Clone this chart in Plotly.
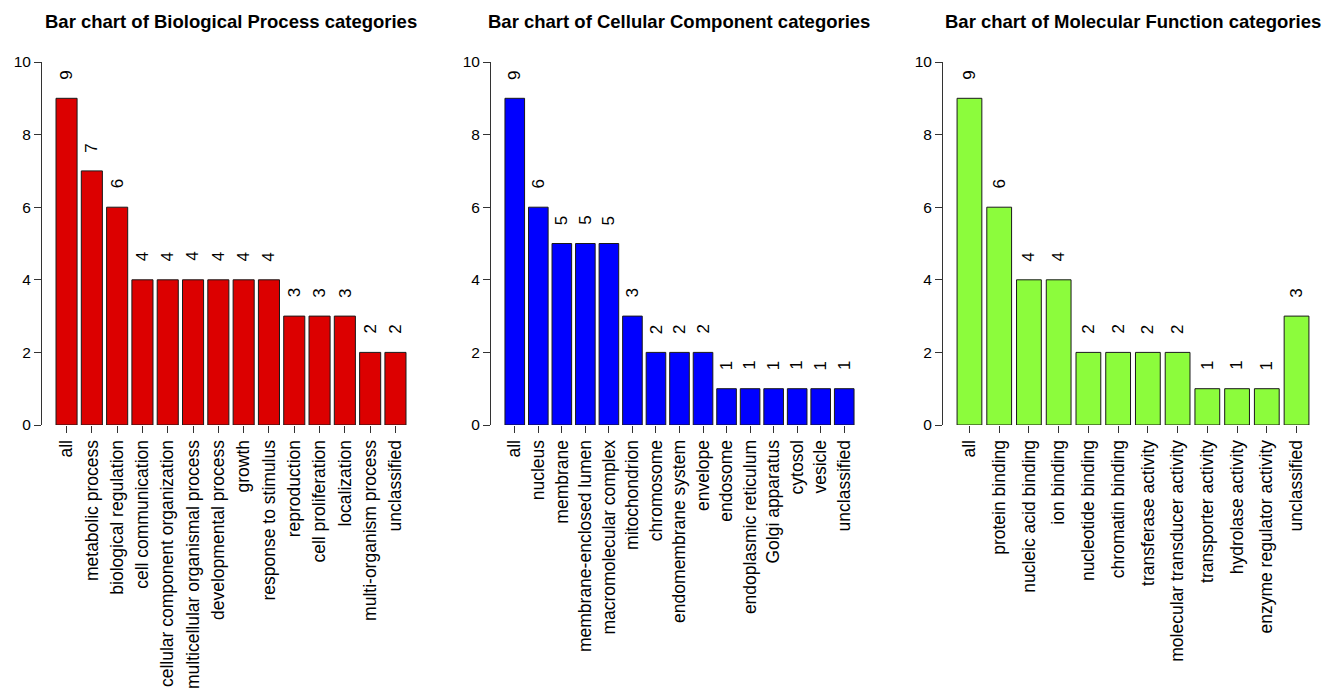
import plotly.graph_objects as go

# ---- data ----
bp_categories = ["all", "metabolic process", "biological regulation", "cell communication",
                 "cellular component organization", "multicellular organismal process",
                 "developmental process", "growth", "response to stimulus", "reproduction",
                 "cell proliferation", "localization", "multi-organism process", "unclassified"]
bp_counts = [9, 7, 6, 4, 4, 4, 4, 4, 4, 3, 3, 3, 2, 2]

cc_categories = ["all", "nucleus", "membrane", "membrane-enclosed lumen", "macromolecular complex",
                 "mitochondrion", "chromosome", "endomembrane system", "envelope", "endosome",
                 "endoplasmic reticulum", "Golgi apparatus", "cytosol", "vesicle", "unclassified"]
cc_counts = [9, 6, 5, 5, 5, 3, 2, 2, 2, 1, 1, 1, 1, 1, 1]

mf_categories = ["all", "protein binding", "nucleic acid binding", "ion binding",
                 "nucleotide binding", "chromatin binding", "transferase activity",
                 "molecular transducer activity", "transporter activity", "hydrolase activity",
                 "enzyme regulator activity", "unclassified"]
mf_counts = [9, 6, 4, 4, 2, 2, 2, 2, 1, 1, 1, 3]

titles = ["Bar chart of Biological Process categories",
          "Bar chart of Cellular Component categories",
          "Bar chart of Molecular Function categories"]
y_ticks = [0, 2, 4, 6, 8, 10]

# ---- layout constants ----
W, H = 1326, 691
FONT = "Liberation Sans, Arial, Helvetica, sans-serif"
panels = [
    (bp_categories, bp_counts, "#DC0000", (42, 420)),
    (cc_categories, cc_counts, "#0000FF", (491, 868)),
    (mf_categories, mf_counts, "#8CFC3C", (943, 1323)),
]
plot_top, plot_bottom = 62, 425  # pixel rows of y=10 and y=0
ydom = [1 - plot_bottom / H, 1 - plot_top / H]

fig = go.Figure()
annotations = []
layout_axes = {}

for k, (cats, vals, color, (x0, x1)) in enumerate(panels):
    n = len(cats)
    idx = list(range(n))
    sfx = "" if k == 0 else str(k + 1)
    xa, ya = "x" + sfx, "y" + sfx
    # R-style barplot spacing: bar width 1, space 0.2, 4% axis padding
    pad = (0.5 + 0.04 * (1.2 * n - 0.2)) / 1.2
    fig.add_trace(go.Bar(
        x=idx, y=vals, xaxis=xa, yaxis=ya,
        marker=dict(color=color, line=dict(color="#1a1a1a", width=1)),
        showlegend=False, hoverinfo="skip",
    ))
    layout_axes["xaxis" + sfx] = dict(
        domain=[x0 / W, x1 / W], range=[-pad, n - 1 + pad], anchor=ya,
        tickmode="array", tickvals=idx, ticktext=cats, tickangle=-90,
        ticks="outside", ticklen=7, tickwidth=1, tickcolor="#333",
        showline=False, showgrid=False, zeroline=False, automargin=False,
        tickfont=dict(family=FONT, size=17.5, color="black"),
    )
    layout_axes["yaxis" + sfx] = dict(
        domain=ydom, range=[0, 10], anchor=xa,
        tickmode="array", tickvals=y_ticks, ticktext=[str(t) for t in y_ticks],
        ticks="outside", ticklen=7, tickwidth=1, tickcolor="#333",
        showline=True, linecolor="#333", linewidth=1,
        showgrid=False, zeroline=False, automargin=False,
        tickfont=dict(family=FONT, size=15.5, color="black"),
    )
    # value labels above each bar
    for i, v in zip(idx, vals):
        annotations.append(dict(
            x=i, y=v, xref=xa, yref=ya, text=str(v), textangle=-90,
            showarrow=False, xanchor="center", yanchor="middle", yshift=23,
            font=dict(family=FONT, size=17, color="black"),
        ))
    # panel title
    annotations.append(dict(
        x=(x0 + x1) / 2 / W, y=1 - 22 / H, xref="paper", yref="paper",
        text="<b>" + titles[k] + "</b>", showarrow=False,
        xanchor="center", yanchor="middle",
        font=dict(family=FONT, size=18.5, color="black"),
    ))

fig.update_layout(
    width=W, height=H, margin=dict(l=0, r=0, t=0, b=0, autoexpand=False),
    paper_bgcolor="white", plot_bgcolor="white",
    bargap=1 - 1 / 1.2, annotations=annotations, **layout_axes,
)

fig.write_html("out.html")
